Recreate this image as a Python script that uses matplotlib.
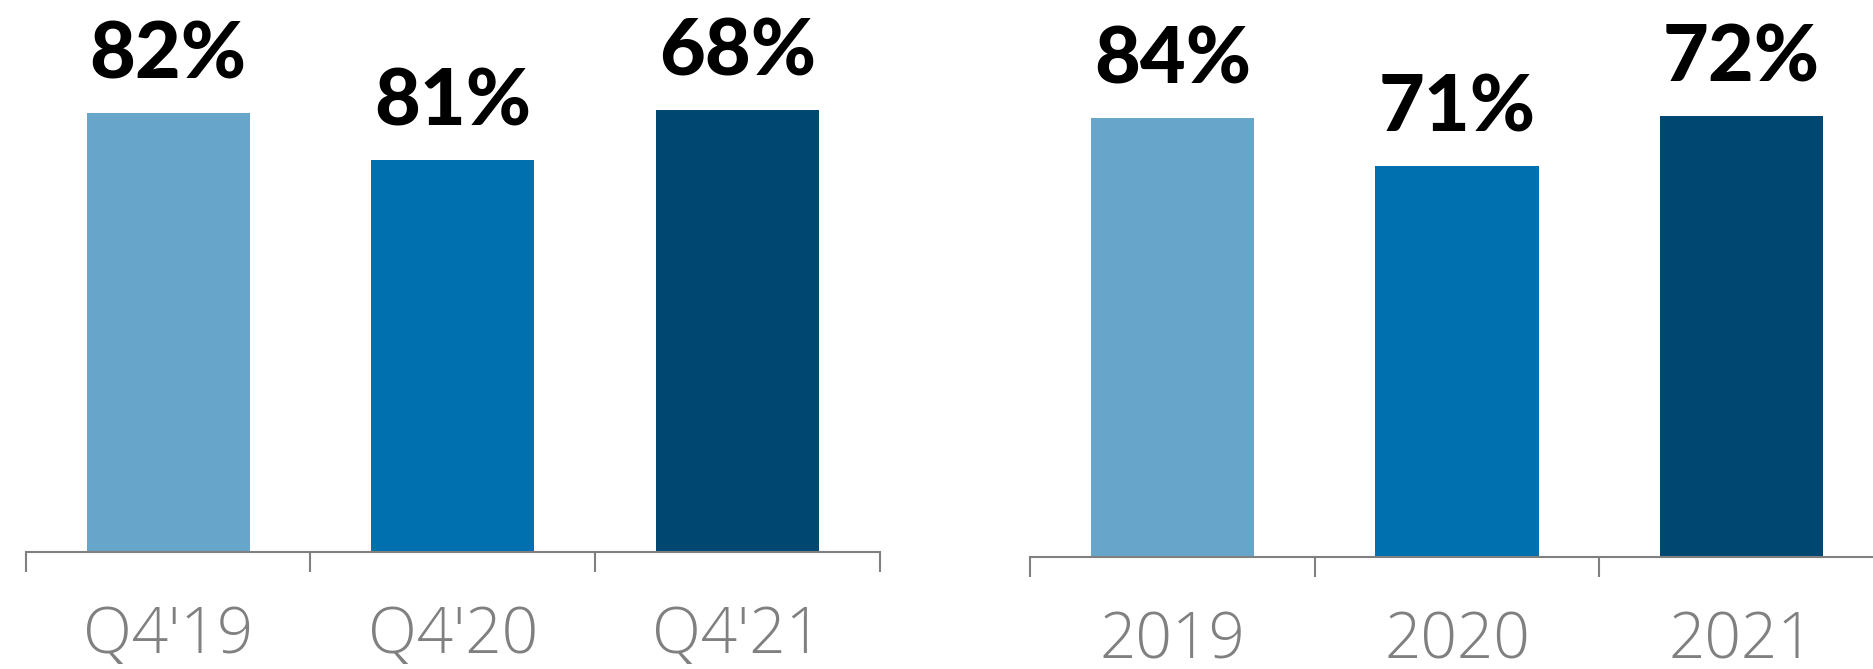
import matplotlib
matplotlib.use("Agg")
import matplotlib.pyplot as plt
from matplotlib.ticker import FixedLocator

# Quarterly panel
quarters = ["Q4'19", "Q4'20", "Q4'21"]
quarter_bars = [4.39, 3.92, 4.42]
quarter_labels = ["82%", "81%", "68%"]

# Annual panel
years = ["2019", "2020", "2021"]
year_bars = [4.39, 3.91, 4.41]
year_labels = ["84%", "71%", "72%"]

colors = ["#68a5cb", "#0071ae", "#004872"]
axis_gray = "#808080"

W, H = 1874, 669
fig = plt.figure(figsize=(W / 100, H / 100), dpi=100)


def panel(x0, x1, base, cats, vals, labels):
    # axes placed in pixel coordinates, top edge at the top of the figure
    ax = fig.add_axes([x0 / W, (H - base) / H, (x1 - x0) / W, base / H])
    n = len(cats)
    xs = list(range(n))
    ax.bar(xs, vals, width=0.573, color=colors, zorder=2)
    ax.set_xlim(-0.5, n - 0.5)
    ax.set_ylim(0, base / 100)
    for x, v, t in zip(xs, vals, labels):
        ax.annotate(t, (x, v), xytext=(0, 24.5), textcoords="offset points",
                    ha="center", va="baseline", fontsize=57,
                    family="Lato", fontweight="black", color="black")
    for s in ("top", "left", "right"):
        ax.spines[s].set_visible(False)
    ax.spines["bottom"].set_color(axis_gray)
    ax.spines["bottom"].set_linewidth(1.5)
    ax.set_yticks([])
    ax.set_xticks(xs)
    ax.set_xticklabels(cats, family="Open Sans", fontweight="light",
                       fontsize=46, color=axis_gray)
    ax.tick_params(axis="x", which="major", length=0, pad=38)
    ax.xaxis.set_minor_locator(FixedLocator([i - 0.5 for i in range(n + 1)]))
    ax.tick_params(axis="x", which="minor", length=14.5, width=1.5,
                   color=axis_gray, direction="out")
    ax.patch.set_alpha(0)
    return ax


panel(25.8, 879.5, 551.6, quarters, quarter_bars, quarter_labels)
panel(1030, 1884, 556.7, years, year_bars, year_labels)

fig.savefig("out.png", dpi=100, facecolor="white")
